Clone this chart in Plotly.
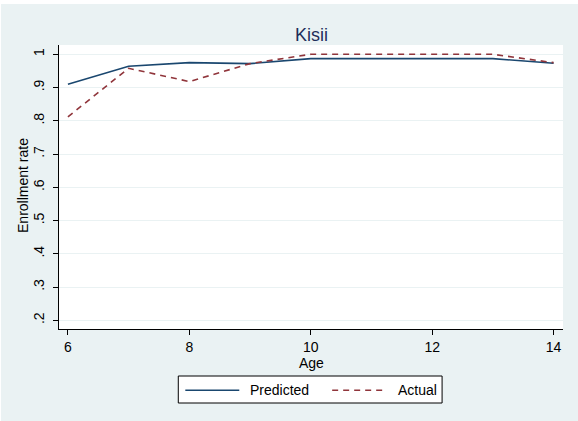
import plotly.graph_objects as go

ages = [6, 7, 8, 9, 10, 11, 12, 13, 14]
predicted = [0.910, 0.964, 0.975, 0.972, 0.987, 0.987, 0.985, 0.987, 0.973]
actual = [0.812, 0.958, 0.918, 0.972, 1.000, 1.000, 1.000, 1.000, 0.975]
y_ticks = [0.2, 0.3, 0.4, 0.5, 0.6, 0.7, 0.8, 0.9, 1.0]
y_tick_labels = [".2", ".3", ".4", ".5", ".6", ".7", ".8", ".9", "1"]
x_ticks = [6, 8, 10, 12, 14]
series_names = ["Predicted", "Actual"]

BG = "#EAF2F3"
C_PRED = "#1A476F"
C_ACT = "#90353B"
DASH = "6px,5px"

fig = go.Figure()
fig.add_trace(go.Scatter(x=ages, y=predicted, mode="lines", name=series_names[0],
                         line=dict(color=C_PRED, width=1.6)))
fig.add_trace(go.Scatter(x=ages, y=actual, mode="lines", name=series_names[1],
                         line=dict(color=C_ACT, width=1.6, dash=DASH)))

# custom legend box (paper coordinates)
ly = -0.2158
shapes = [
    dict(type="rect", xref="paper", yref="paper", x0=0.2367, x1=0.7601, y0=-0.2606, y1=-0.1655,
         fillcolor="white", line=dict(color="black", width=1)),
    dict(type="line", xref="paper", yref="paper", x0=0.2506, x1=0.3577, y0=ly, y1=ly,
         line=dict(color=C_PRED, width=1.6)),
    dict(type="line", xref="paper", yref="paper", x0=0.5420, x1=0.6491, y0=ly, y1=ly,
         line=dict(color=C_ACT, width=1.6, dash=DASH)),
]
annotations = [
    dict(text="Kisii", xref="paper", yref="paper", x=0.5, y=1,
         xanchor="center", yanchor="bottom", yshift=-2, showarrow=False,
         font=dict(size=18, color="#1E2E5A")),
    dict(text="Enrollment rate", xref="paper", yref="paper", x=-0.0712, y=0.504,
         xanchor="center", yanchor="middle", textangle=-90, showarrow=False,
         font=dict(size=14)),
    dict(text="Age", xref="paper", yref="paper", x=0.5, y=-0.119,
         xanchor="center", yanchor="middle", showarrow=False, font=dict(size=14)),
    dict(text=series_names[0], xref="paper", yref="paper", x=0.3755, y=ly,
         xanchor="left", yanchor="middle", showarrow=False, font=dict(size=14)),
    dict(text=series_names[1], xref="paper", yref="paper", x=0.6689, y=ly,
         xanchor="left", yanchor="middle", showarrow=False, font=dict(size=14)),
]

fig.update_layout(
    width=577, height=417,
    paper_bgcolor=BG, plot_bgcolor="white",
    margin=dict(l=57.6, r=15, t=41, b=92, autoexpand=False),
    font=dict(family="Liberation Sans, Arial, sans-serif", size=14, color="black"),
    shapes=shapes, annotations=annotations,
    showlegend=False,
    xaxis=dict(range=[5.853, 14.155], tickvals=x_ticks, showgrid=False, zeroline=False,
               automargin=False,
               showline=True, linecolor="black", linewidth=1, ticks="outside",
               ticklen=5, tickcolor="black", tickfont=dict(size=14)),
    yaxis=dict(range=[0.174, 1.028], tickvals=y_ticks, ticktext=y_tick_labels,
               automargin=False, ticklabelstandoff=3,
               tickangle=-90, showgrid=True, gridcolor=BG, gridwidth=1.2, zeroline=False,
               showline=True, linecolor="black", linewidth=1, ticks="outside",
               ticklen=5, tickcolor="black", tickfont=dict(size=14)),
)
fig.write_html("out.html", post_script="document.body.style.margin='4px 0 0 1px';document.body.style.background='white';")
